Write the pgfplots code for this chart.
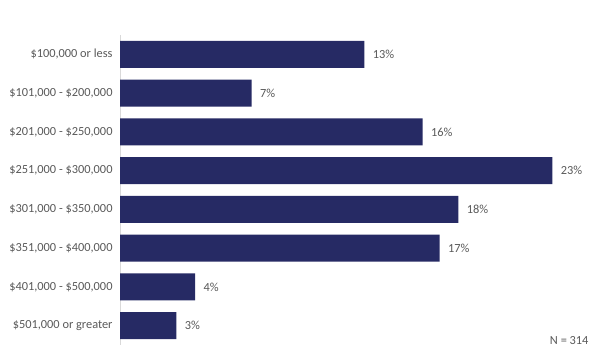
\documentclass[border=0pt]{standalone}
\usepackage{pgfplots}
\pgfplotsset{compat=1.18}
\usepackage{fontspec}
\setmainfont{Carlito}
\definecolor{barc}{RGB}{38,42,100}
\definecolor{txt}{RGB}{89,89,89}
\definecolor{axl}{RGB}{217,217,217}
\begin{document}
\begin{tikzpicture}
\path[use as bounding box] (0,0) rectangle (606bp,359bp);
\begin{axis}[
  at={(120bp,14bp)}, anchor=south west,
  scale only axis, width=470bp, height=310bp,
  xbar, bar width=27bp,
  xmin=0, xmax=25,
  ymin=-0.5, ymax=7.5, y dir=reverse,
  ytick={0,...,7},
  yticklabels={{\$100,000 or less},{\$101,000 - \$200,000},{\$201,000 - \$250,000},{\$251,000 - \$300,000},{\$301,000 - \$350,000},{\$351,000 - \$400,000},{\$401,000 - \$500,000},{\$501,000 or greater}},
  yticklabel style={font=\fontsize{12.4}{14}\selectfont, text=txt, xshift=-4bp},
  xtick=\empty,
  major tick length=0pt,
  axis x line=none,
  axis y line*=left,
  axis line style={draw=axl, line width=0.8pt, -},
  /pgf/number format/assume math mode=true,
  nodes near coords={\pgfmathprintnumber[fixed,precision=0,assume math mode=true]{\pgfplotspointmeta}\%},
  nodes near coords style={font=\fontsize{12.4}{14}\selectfont, text=txt, anchor=west, xshift=5bp},
  clip=false,
]
\addplot[fill=barc, draw=none] coordinates {
(13.0,0) (7.0,1) (16.1,2) (23.0,3) (18.0,4) (17.0,5) (4.0,6) (3.0,7)};
\end{axis}
\node[anchor=east, text=txt, font=\fontsize{12.4}{14}\selectfont] at (592bp,18bp) {N = 314};
\end{tikzpicture}
\end{document}
